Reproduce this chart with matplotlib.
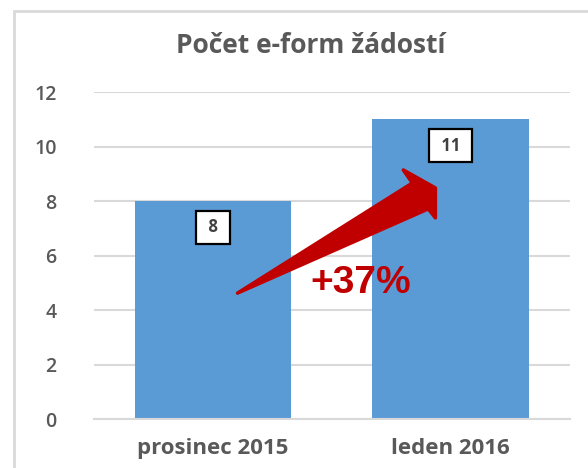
import matplotlib
matplotlib.use("Agg")
import matplotlib.pyplot as plt
from matplotlib.patches import Polygon, Rectangle

# ── Data ─────────────────────────────────────────────
categories = ["prosinec 2015", "leden 2016"]
values = [8, 11]
y_ticks = [0, 2, 4, 6, 8, 10, 12]
title = "Počet e-form žádostí"
growth_label = "+37%"

# ── Style ────────────────────────────────────────────
BAR_COLOR = "#5B9BD5"
TEXT_COLOR = "#595959"
GRID_COLOR = "#D9D9D9"
ARROW_COLOR = "#C00000"

plt.rcParams["font.family"] = ["Open Sans", "DejaVu Sans"]

fig = plt.figure(figsize=(5.88, 4.68), dpi=100)
ax = fig.add_axes([0.160, 0.1047, 0.809, 0.6987])

x = list(range(len(categories)))
ax.bar(x, values, width=0.66, color=BAR_COLOR, zorder=2)

# data labels in boxed callouts, just inside the bar top
for xi, v in zip(x, values):
    ax.annotate(f" {v} ", xy=(xi, v), xytext=(0, -19), textcoords="offset points",
                ha="center", va="center", fontsize=12, fontweight="bold",
                color="#404040", zorder=5,
                bbox=dict(boxstyle="square,pad=0.45", facecolor="white",
                          edgecolor="black", linewidth=1.6))

# growth arrow (annotation shape, data coordinates)
arrow_pts = [(0.103, 4.62), (0.838, 8.66), (0.800, 9.14), (0.935, 8.48),
             (0.935, 7.38), (0.905, 7.71)]
ax.add_patch(Polygon(arrow_pts, closed=True, facecolor=ARROW_COLOR,
                     edgecolor=ARROW_COLOR, linewidth=2.5, joinstyle="round",
                     zorder=4))
ax.text(0.62, 5.0, growth_label, ha="center", va="center", fontsize=28,
        fontweight="bold", color=ARROW_COLOR, family="Liberation Sans", zorder=6)

ax.set_xlim(-0.5, 1.5)
ax.set_ylim(0, 12)
ax.set_yticks(y_ticks)
ax.set_xticks(x)
ax.set_xticklabels(categories)
ax.tick_params(axis="y", length=0, pad=27, labelsize=14, labelcolor=TEXT_COLOR)
ax.tick_params(axis="x", length=0, pad=14, labelsize=16, labelcolor=TEXT_COLOR)
for lbl in ax.get_yticklabels():
    lbl.set_fontweight("semibold")
for lbl in ax.get_xticklabels():
    lbl.set_fontweight("bold")

ax.grid(axis="y", color=GRID_COLOR, linewidth=1.5, zorder=0)
ax.set_axisbelow(True)
for s in ["top", "right", "left"]:
    ax.spines[s].set_visible(False)
ax.spines["bottom"].set_color(GRID_COLOR)
ax.spines["bottom"].set_linewidth(1.5)

fig.text(0.529, 0.903, title, ha="center", va="center", fontsize=19,
         fontweight="bold", color=TEXT_COLOR)

# chart frame
fig.patches.append(Rectangle((14 / 588, -0.1), 1.2, 1 - 11 / 468 + 0.1,
                             transform=fig.transFigure, fill=False,
                             edgecolor=GRID_COLOR, linewidth=2))

fig.savefig("out.png", dpi=100, facecolor="white")
